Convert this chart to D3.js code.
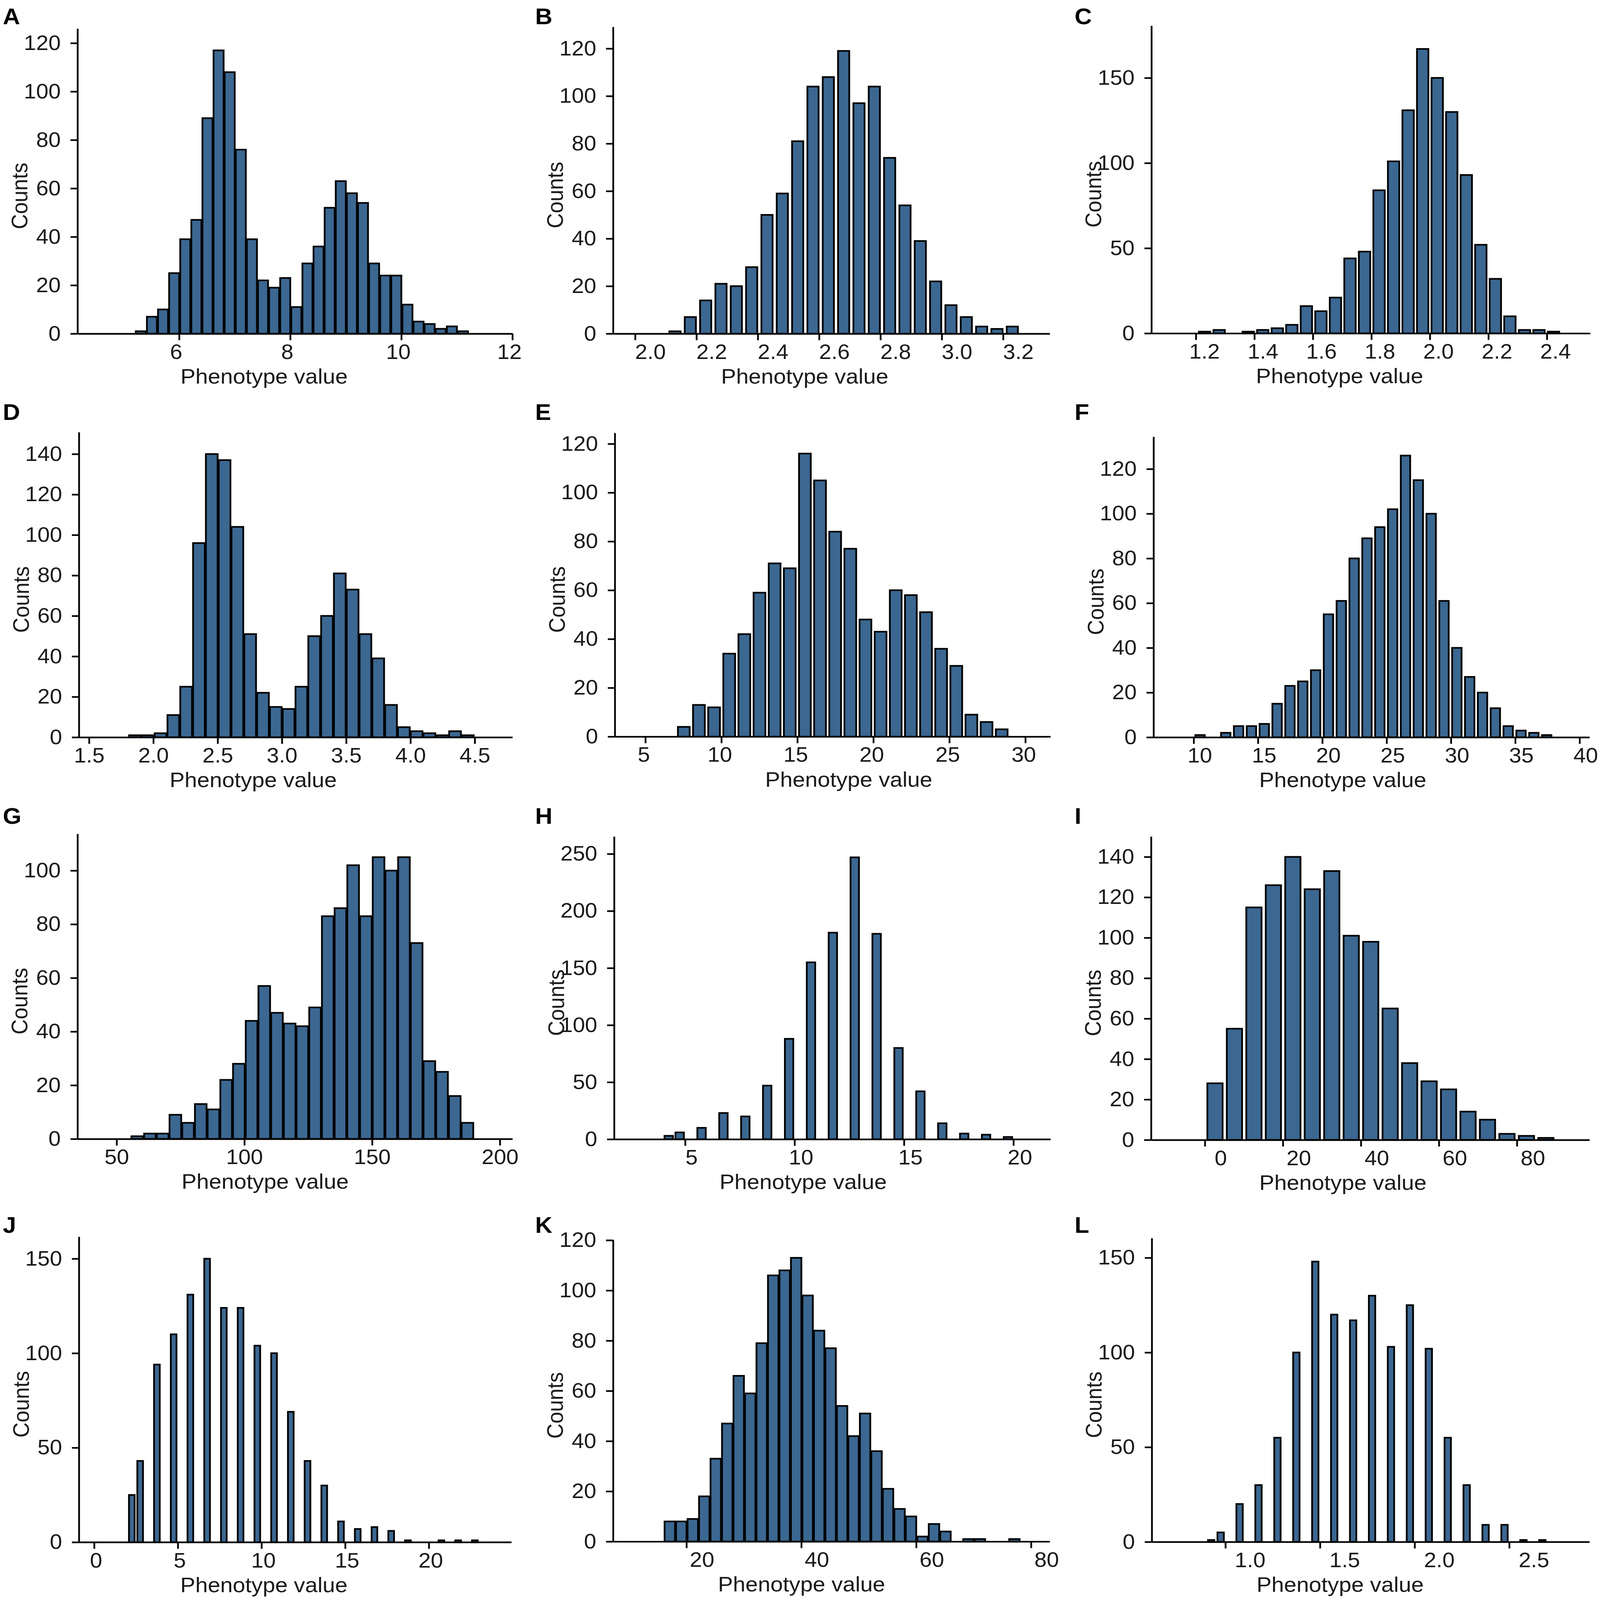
<!DOCTYPE html>
<html>
<head>
<meta charset="utf-8">
<script src="https://cdn.jsdelivr.net/npm/d3@7"></script>
<style>
  html, body { margin: 0; padding: 0; background: #fff; overflow: hidden; }
  svg { display: block; width: 100vw; height: 100vh; }
</style>
</head>
<body>
<svg id="fig" viewBox="0 0 4562 4872" preserveAspectRatio="none"></svg>
<script>
// ---- data ----
const panelLetters = ["A", "B", "C", "D", "E", "F", "G", "H", "I", "J", "K", "L"];

const countsA = [1, 7, 10, 25, 39, 47, 89, 117, 108, 76, 39, 22, 19, 23, 11, 29, 36, 52, 63, 58, 54, 29, 24, 24, 12, 5, 4, 2, 3, 1];
const countsB = [1, 7, 14, 21, 20, 28, 50, 59, 81, 104, 108, 119, 97, 104, 74, 54, 39, 22, 12, 7, 3, 2, 3];
const countsC = [1, 2, 0, 1, 2, 3, 5, 16, 13, 21, 44, 48, 84, 101, 131, 167, 150, 130, 93, 52, 32, 10, 2, 2, 1];
const countsD = [1, 1, 2, 11, 25, 96, 140, 137, 104, 51, 22, 15, 14, 25, 50, 60, 81, 73, 51, 39, 16, 5, 3, 2, 1, 3, 1];
const countsE = [4, 13, 12, 34, 42, 59, 71, 69, 116, 105, 84, 77, 48, 43, 60, 58, 51, 36, 29, 9, 6, 3];
const countsF = [1, 0, 2, 5, 5, 6, 15, 23, 25, 30, 55, 61, 80, 89, 94, 102, 126, 115, 100, 61, 40, 27, 20, 13, 5, 3, 2, 1];
const countsG = [1, 2, 2, 9, 6, 13, 11, 22, 28, 44, 57, 47, 43, 42, 49, 83, 86, 102, 83, 105, 100, 105, 73, 29, 25, 16, 6];
const countsH = [3, 6, 0, 10, 0, 23, 0, 20, 0, 47, 0, 88, 0, 155, 0, 181, 0, 247, 0, 180, 0, 80, 0, 42, 0, 14, 0, 5, 0, 4, 0, 2];
const countsI = [28, 55, 115, 126, 140, 124, 133, 101, 98, 65, 38, 29, 25, 14, 10, 3, 2, 1];
const countsJ = [25, 43, 0, 94, 0, 110, 0, 131, 0, 150, 0, 124, 0, 124, 0, 104, 0, 100, 0, 69, 0, 43, 0, 30, 0, 11, 0, 7, 0, 8, 0, 6, 0, 1, 0, 0, 0, 1, 0, 1, 0, 1];
const countsK = [8, 8, 9, 18, 33, 47, 66, 59, 79, 106, 108, 113, 98, 84, 77, 54, 42, 51, 36, 21, 13, 10, 2, 7, 4, 0, 1, 1, 0, 0, 1];
const countsL = [1, 5, 0, 20, 0, 30, 0, 55, 0, 100, 0, 148, 0, 120, 0, 117, 0, 130, 0, 103, 0, 125, 0, 102, 0, 55, 0, 30, 0, 9, 0, 9, 0, 1, 0, 1];

// left edge of the first bin and bin width, in phenotype units
const binStarts = [5.21, 2.105, 1.205, 1.807, 7.03, 10.0, 55.6, 4.0, 0.1, 2.0, 16.1, 0.9];
const binWidths = [0.2, 0.05, 0.0497, 0.0996, 0.996, 0.998, 4.97, 0.5, 4.99, 0.5, 2.0, 0.05];

// axis extents
const xDomains = [[4.17, 12], [1.928, 3.352], [1.048, 2.548], [1.421, 4.793], [2.99, 31.65], [6.88, 40.77],
                  [34.7, 204.9], [1.755, 21.69], [-13.79, 98.6], [-0.91, 24.93], [7.22, 83.25], [0.611, 2.924]];
const yMaxes = [126, 129.1, 180.7, 150.8, 124.5, 134.4, 113.7, 265.3, 150.1, 161.6, 120.2, 160.4];

const xTicks = [
  [6, 8, 10, 12],
  [2.0, 2.2, 2.4, 2.6, 2.8, 3.0, 3.2],
  [1.2, 1.4, 1.6, 1.8, 2.0, 2.2, 2.4],
  [1.5, 2.0, 2.5, 3.0, 3.5, 4.0, 4.5],
  [5, 10, 15, 20, 25, 30],
  [10, 15, 20, 25, 30, 35, 40],
  [50, 100, 150, 200],
  [5, 10, 15, 20],
  [0, 20, 40, 60, 80],
  [0, 5, 10, 15, 20],
  [20, 40, 60, 80],
  [1.0, 1.5, 2.0, 2.5]
];
const xDecimals = [0, 1, 1, 1, 0, 0, 0, 0, 0, 0, 0, 1];
const yTicks = [
  [0, 20, 40, 60, 80, 100, 120],
  [0, 20, 40, 60, 80, 100, 120],
  [0, 50, 100, 150],
  [0, 20, 40, 60, 80, 100, 120, 140],
  [0, 20, 40, 60, 80, 100, 120],
  [0, 20, 40, 60, 80, 100, 120],
  [0, 20, 40, 60, 80, 100],
  [0, 50, 100, 150, 200, 250],
  [0, 20, 40, 60, 80, 100, 120, 140],
  [0, 50, 100, 150],
  [0, 20, 40, 60, 80, 100, 120],
  [0, 50, 100, 150]
];

const allCounts = [countsA, countsB, countsC, countsD, countsE, countsF,
                   countsG, countsH, countsI, countsJ, countsK, countsL];

// ---- layout (figure pixels) ----
// [left, right, top, bottom] of each plotting area
const plotBoxes = [
  [221, 1461, 87, 1016], [1748, 2993, 82, 1016], [3283, 4534, 78, 1015],
  [225, 1461, 1316, 2245], [1753, 2995, 1318, 2243], [3289, 4532, 1330, 2245],
  [221, 1461, 2539, 3468], [1751, 2995, 2547, 3469], [3282, 4532, 2547, 3471],
  [225, 1458, 3766, 4696], [1748, 2993, 3775, 4694], [3284, 4532, 3770, 4695]
];
const barInsets = [1.5, 5.9, 4.5, 1.5, 4.8, 4.9, 1.5, 3.6, 6, 3.8, 1.5, 4.4];
const tickLabelDx = [-9, 43, 24, 0, -5, 17, 0, 18, 45, 5, 44, 70];
const titleDx = [-88, -76, -89, -121, 46, -82, -85, -83, -78, -89, -85, -87];
const letterX = [8, 1526, 3064];
const letterY = [74, 1279, 2508, 3754];

const barFill = "#3b6791";
const fontFamily = "'Liberation Sans', Arial, Helvetica, sans-serif";

const svg = d3.select("#fig");
svg.append("rect").attr("width", 4562).attr("height", 4872).attr("fill", "#fff");

panelLetters.forEach((letter, i) => {
  const [left, right, top, bottom] = plotBoxes[i];
  const col = i % 3, row = Math.floor(i / 3);

  const x = d3.scaleLinear().domain(xDomains[i]).range([left, right]);
  const y = d3.scaleLinear().domain([0, yMaxes[i]]).range([bottom, top]);

  const g = svg.append("g").attr("class", "panel-" + letter);

  const bins = allCounts[i]
    .map((n, k) => ({ x0: binStarts[i] + k * binWidths[i], x1: binStarts[i] + (k + 1) * binWidths[i], n: n }))
    .filter(d => d.n > 0);

  const inset = barInsets[i];
  g.append("g").selectAll("rect")
    .data(bins)
    .join("rect")
    .attr("x", d => x(d.x0) + inset)
    .attr("width", d => Math.max(1, x(d.x1) - x(d.x0) - 2 * inset))
    .attr("y", d => y(d.n))
    .attr("height", d => y(0) - y(d.n))
    .attr("fill", barFill)
    .attr("stroke", "#000")
    .attr("stroke-width", 5);

  // x axis
  const fmt = xDecimals[i] ? d3.format(".1f") : d3.format("d");
  const xAxis = g.append("g")
    .attr("transform", `translate(0,${bottom})`)
    .call(d3.axisBottom(x).tickValues(xTicks[i]).tickFormat(fmt)
      .tickSize(20).tickSizeOuter(0).tickPadding(12));
  xAxis.selectAll("text").attr("dx", tickLabelDx[i]);

  // y axis
  const yAxis = g.append("g")
    .attr("transform", `translate(${left},0)`)
    .call(d3.axisLeft(y).tickValues(yTicks[i]).tickFormat(d3.format("d"))
      .tickSize(20).tickSizeOuter(0).tickPadding(28));

  [xAxis, yAxis].forEach(ax => {
    ax.attr("font-family", fontFamily).attr("font-size", 63);
    ax.select(".domain").attr("stroke", "#000").attr("stroke-width", 5);
    ax.selectAll(".tick line").attr("stroke", "#000").attr("stroke-width", 5);
    ax.selectAll(".tick text").attr("fill", "#1a1a1a");
  });

  // axis titles
  g.append("text")
    .attr("x", (left + right) / 2 + titleDx[i])
    .attr("y", bottom + 152)
    .attr("text-anchor", "middle")
    .attr("font-family", fontFamily)
    .attr("font-size", 64)
    .attr("fill", "#1a1a1a")
    .text("Phenotype value");

  g.append("text")
    .attr("transform", `translate(${left - 143},${(top + bottom) / 2 + 45}) rotate(-90)`)
    .attr("text-anchor", "middle")
    .attr("font-family", fontFamily)
    .attr("font-size", 64)
    .attr("fill", "#1a1a1a")
    .text("Counts");

  // panel letter
  g.append("text")
    .attr("x", letterX[col])
    .attr("y", letterY[row])
    .attr("font-family", fontFamily)
    .attr("font-weight", "bold")
    .attr("font-size", 68)
    .attr("fill", "#000")
    .text(letter);
});
</script>
</body>
</html>
